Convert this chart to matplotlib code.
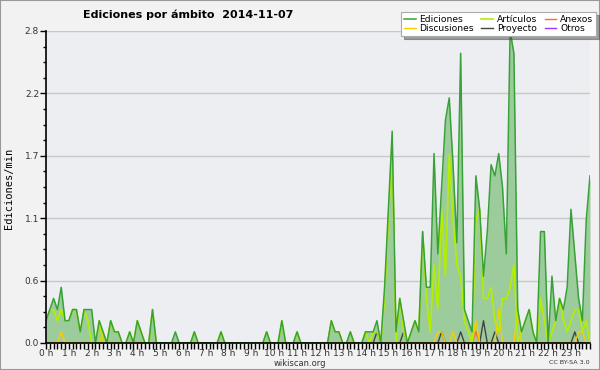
import numpy as np
import matplotlib
matplotlib.use("Agg")
import matplotlib.pyplot as plt
from matplotlib.patches import Rectangle
from matplotlib.ticker import MultipleLocator, FixedLocator

# ── Data (edits/min per 10-minute slot, 2014-11-07) ──────────────────────────

TITLE    = "Ediciones por ámbito  2014-11-07"
Y_LABEL  = "Ediciones/min"
HOURS    = [f"{h} h" for h in range(24)]

ediciones = [
    0.2, 0.3, 0.4, 0.3, 0.5, 0.2, 0.2, 0.3, 0.3, 0.1, 0.3, 0.3,
    0.3, 0.0, 0.2, 0.1, 0.0, 0.2, 0.1, 0.1, 0.0, 0.0, 0.1, 0.0,
    0.2, 0.1, 0.0, 0.0, 0.3, 0.0, 0.0, 0.0, 0.0, 0.0, 0.1, 0.0,
    0.0, 0.0, 0.0, 0.1, 0.0, 0.0, 0.0, 0.0, 0.0, 0.0, 0.1, 0.0,
    0.0, 0.0, 0.0, 0.0, 0.0, 0.0, 0.0, 0.0, 0.0, 0.0, 0.1, 0.0,
    0.0, 0.0, 0.2, 0.0, 0.0, 0.0, 0.1, 0.0, 0.0, 0.0, 0.0, 0.0,
    0.0, 0.0, 0.0, 0.2, 0.1, 0.1, 0.0, 0.0, 0.1, 0.0, 0.0, 0.0,
    0.1, 0.1, 0.1, 0.2, 0.0, 0.5, 1.2, 1.9, 0.1, 0.4, 0.2, 0.0,
    0.1, 0.2, 0.1, 1.0, 0.5, 0.5, 1.7, 0.8, 1.4, 2.0, 2.2, 1.6,
    0.9, 2.6, 0.3, 0.2, 0.1, 1.5, 1.2, 0.6, 1.0, 1.6, 1.5, 1.7,
    1.4, 0.8, 2.8, 2.6, 0.3, 0.1, 0.2, 0.3, 0.1, 0.0, 1.0, 1.0,
    0.0, 0.6, 0.2, 0.4, 0.3, 0.5, 1.2, 0.8, 0.4, 0.2, 1.1, 1.5,
]

articulos = [
    0.2, 0.3, 0.3, 0.2, 0.3, 0.2, 0.2, 0.3, 0.3, 0.1, 0.3, 0.2,
    0.0, 0.0, 0.2, 0.0, 0.0, 0.2, 0.1, 0.1, 0.0, 0.0, 0.1, 0.0,
    0.2, 0.1, 0.0, 0.0, 0.3, 0.0, 0.0, 0.0, 0.0, 0.0, 0.0, 0.0,
    0.0, 0.0, 0.0, 0.1, 0.0, 0.0, 0.0, 0.0, 0.0, 0.0, 0.1, 0.0,
    0.0, 0.0, 0.0, 0.0, 0.0, 0.0, 0.0, 0.0, 0.0, 0.0, 0.1, 0.0,
    0.0, 0.0, 0.2, 0.0, 0.0, 0.0, 0.1, 0.0, 0.0, 0.0, 0.0, 0.0,
    0.0, 0.0, 0.0, 0.2, 0.1, 0.1, 0.0, 0.0, 0.1, 0.0, 0.0, 0.0,
    0.1, 0.0, 0.1, 0.1, 0.0, 0.4, 1.1, 1.8, 0.0, 0.4, 0.1, 0.0,
    0.1, 0.2, 0.1, 1.0, 0.4, 0.1, 0.7, 0.3, 1.2, 0.6, 1.7, 1.1,
    0.7, 0.6, 0.2, 0.1, 0.0, 1.1, 1.2, 0.4, 0.4, 0.5, 0.2, 0.1,
    0.4, 0.4, 0.5, 0.7, 0.0, 0.1, 0.2, 0.3, 0.1, 0.0, 0.4, 0.2,
    0.0, 0.1, 0.2, 0.4, 0.2, 0.1, 0.2, 0.3, 0.3, 0.1, 0.2, 0.0,
]

# sparse series: {slot index: value}
discusiones_pts = {4: 0.1, 15: 0.1, 103: 0.1, 104: 0.1, 107: 0.1,
                   113: 0.2, 119: 0.3, 124: 0.3, 140: 0.1, 141: 0.1}
proyecto_pts    = {87: 0.1, 94: 0.1, 104: 0.1, 109: 0.1, 115: 0.2,
                   118: 0.1, 139: 0.1}
anexos_pts      = {113: 0.1}
otros_pts       = {}

N = len(ediciones)

def expand(pts):
    out = [0.0] * N
    for k, v in pts.items():
        out[k] = v
    return out

discusiones = expand(discusiones_pts)
proyecto    = expand(proyecto_pts)
anexos      = expand(anexos_pts)
otros       = expand(otros_pts)

# ── Style ────────────────────────────────────────────────────────────────────

FIG_BG   = "#f2f2f2"
AX_BG    = "#eceef1"
C_ED     = "#38a238"
C_FILL   = "#9ccb9c"
C_ART    = "#b4ee00"
C_ANEX   = "#ff6a2a"
C_DISC   = "#ffcc00"
C_PROY   = "#444444"
C_OTROS  = "#9933ff"
TXT      = "#333333"

# ── Plot ─────────────────────────────────────────────────────────────────────

fig = plt.figure(figsize=(6.0, 3.7), dpi=100, facecolor=FIG_BG)
ax  = fig.add_axes([46 / 600, 27 / 370, 544 / 600, 312 / 370], facecolor=AX_BG)

x = np.arange(N)
ymax = max(ediciones)

ax.fill_between(x, ediciones, 0, color=C_FILL, lw=0, zorder=2)
ax.plot(x, otros,       color=C_OTROS, lw=1.0, zorder=3, label="Otros")
ax.plot(x, anexos,      color=C_ANEX,  lw=1.0, zorder=3, label="Anexos")
ax.plot(x, proyecto,    color=C_PROY,  lw=1.0, zorder=3, label="Proyecto")
ax.plot(x, discusiones, color=C_DISC,  lw=1.0, zorder=3, label="Discusiones")
ax.plot(x, articulos,   color=C_ART,   lw=1.2, zorder=4, label="Artículos")
ax.plot(x, ediciones,   color=C_ED,    lw=1.1, zorder=5, label="Ediciones")

ax.set_xlim(0, N - 1)
ax.set_ylim(0, ymax)

# y axis: 5 divisions of the max, 3 minor ticks between
yt = np.linspace(0, ymax, 6)
ax.yaxis.set_major_locator(FixedLocator(yt))
ax.yaxis.set_minor_locator(MultipleLocator(ymax / 20))
ax.set_yticklabels([f"{v:.1f}" for v in yt])

# x axis: hour labels, minor tick every 10 min
ax.set_xticks(np.arange(0, N, 6))
ax.set_xticklabels(HOURS)
ax.xaxis.set_minor_locator(MultipleLocator(1))

ax.tick_params(axis="both", which="major", labelsize=6.5, colors="black",
               labelcolor=TXT, length=4, width=1, pad=1)
ax.tick_params(axis="y", which="minor", length=2, width=1)
ax.tick_params(axis="x", which="major", length=4, pad=0, labelsize=6.5)
ax.tick_params(axis="x", which="minor", length=4, width=1)

ax.grid(axis="y", which="major", color="#c8c8c8", lw=1, zorder=1)
ax.set_axisbelow(True)

for side in ("top", "right"):
    ax.spines[side].set_visible(False)
for side in ("left", "bottom"):
    ax.spines[side].set_linewidth(1.2)
    ax.spines[side].set_zorder(6)

# ── Texts ────────────────────────────────────────────────────────────────────

fig.text(188 / 600, 1 - 15 / 370, TITLE, ha="center", va="center",
         fontsize=8, fontweight="bold", color="black")
fig.text(9 / 600, 1 - 188 / 370, Y_LABEL, rotation=90, ha="center", va="center",
         fontsize=7.5, family="DejaVu Sans Mono", color="black")
fig.text(300 / 600, 1 - 363 / 370, "wikiscan.org", ha="center", va="center",
         fontsize=6, color=TXT)
fig.text(590 / 600, 1 - 363 / 370, "CC BY-SA 3.0", ha="right", va="center",
         fontsize=4.6, color=TXT)

# ── Legend (row-major order) ─────────────────────────────────────────────────

h, l = ax.get_legend_handles_labels()
by_label = dict(zip(l, h))
order = ["Ediciones", "Discusiones", "Artículos", "Proyecto", "Anexos", "Otros"]
leg = fig.legend([by_label[k] for k in order], order, ncol=3,
                 loc="upper right", bbox_to_anchor=(596 / 600, 1 - 12 / 370),
                 fontsize=6.6, frameon=True, fancybox=False, shadow=True,
                 handlelength=1.3, handletextpad=0.4, columnspacing=0.8,
                 labelspacing=0.05, borderpad=0.3, borderaxespad=0)
leg.get_frame().set_edgecolor("#aaaaaa")
leg.get_frame().set_linewidth(0.8)

fig.patches.append(Rectangle((0, 0), 1, 1, transform=fig.transFigure,
                             fill=False, edgecolor="#999999", lw=1.5))

fig.savefig("out.png", dpi=100, facecolor=FIG_BG)
